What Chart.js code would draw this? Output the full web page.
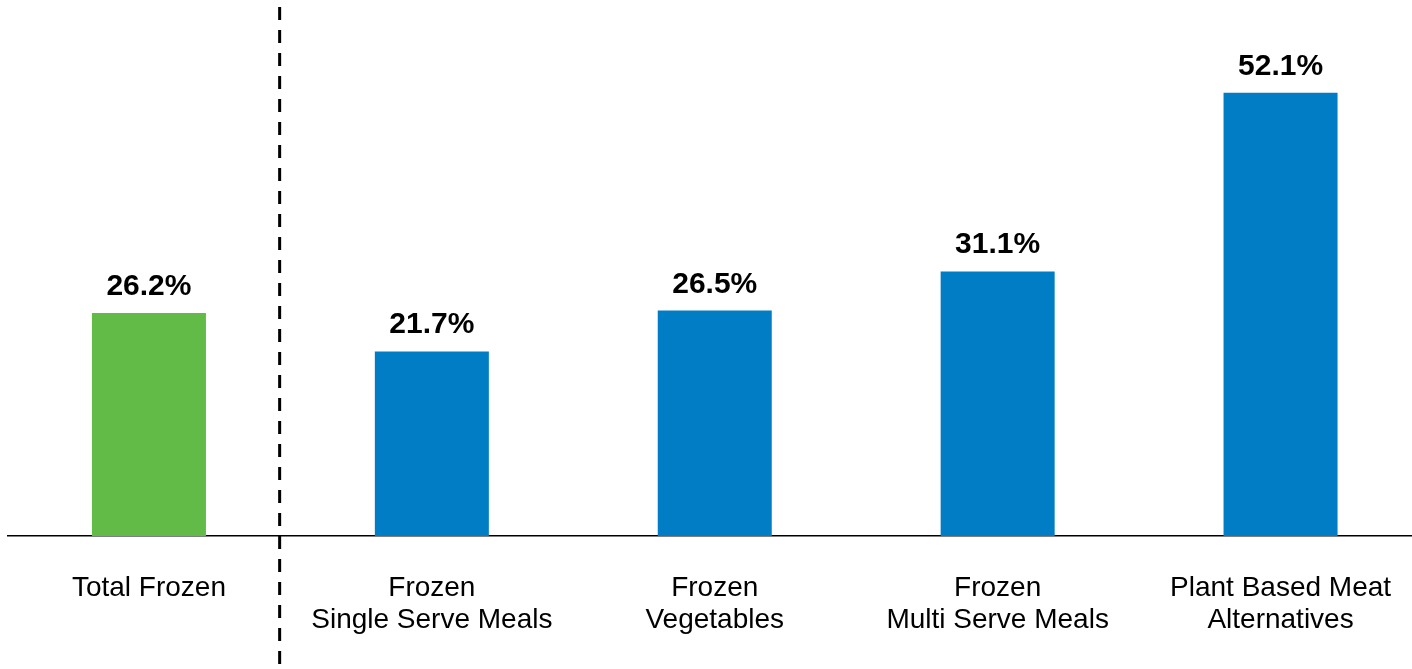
<!DOCTYPE html>
<html>
<head>
<meta charset="utf-8">
<script src="https://cdn.jsdelivr.net/npm/chart.js@4"></script>
<style>
  html, body { margin: 0; padding: 0; background: #fff; overflow: hidden; }
  #wrap { width: 1422px; height: 669px; }
</style>
</head>
<body>
<div id="wrap"><canvas id="salesChart"></canvas></div>
<script>
const categories = [
    'Total Frozen',
    ['Frozen', 'Single Serve Meals'],
    ['Frozen', 'Vegetables'],
    ['Frozen', 'Multi Serve Meals'],
    ['Plant Based Meat', 'Alternatives']
];
const growthValues = [26.2, 21.7, 26.5, 31.1, 52.1];
const barColors = ['#62BB46', '#007DC5', '#007DC5', '#007DC5', '#007DC5'];

const fontFamily = '"Liberation Sans", Arial, sans-serif';

// value labels above each bar
const valueLabels = {
    id: 'valueLabels',
    afterDatasetsDraw(chart) {
        const ctx = chart.ctx;
        const meta = chart.getDatasetMeta(0);
        ctx.save();
        ctx.font = 'bold 30px ' + fontFamily;
        ctx.fillStyle = '#000';
        ctx.textAlign = 'center';
        ctx.textBaseline = 'alphabetic';
        meta.data.forEach((bar, i) => {
            ctx.fillText(growthValues[i].toFixed(1) + '%', bar.x, bar.y - 18);
        });
        ctx.restore();
    }
};

// dashed divider between "Total Frozen" and the sub-categories
const divider = {
    id: 'divider',
    afterDraw(chart) {
        const ctx = chart.ctx;
        const x = chart.scales.x;
        const step = x.getPixelForValue(1) - x.getPixelForValue(0);
        const px = x.getPixelForValue(0) + step * 0.462;
        ctx.save();
        ctx.strokeStyle = '#000';
        ctx.lineWidth = 3;
        ctx.setLineDash([13, 10]);
        ctx.beginPath();
        ctx.moveTo(px, 7);
        ctx.lineTo(px, chart.height);
        ctx.stroke();
        ctx.restore();
    }
};

new Chart(document.getElementById('salesChart'), {
    type: 'bar',
    data: {
        labels: categories,
        datasets: [{
            data: growthValues,
            backgroundColor: barColors,
            barPercentage: 0.403,
            categoryPercentage: 1
        }]
    },
    plugins: [valueLabels, divider],
    options: {
        responsive: true,
        maintainAspectRatio: false,
        animation: false,
        layout: { padding: { left: 7.5, right: 0, top: 0, bottom: 0 } },
        plugins: { legend: { display: false }, tooltip: { enabled: false } },
        scales: {
            x: {
                grid: { display: false, drawTicks: false },
                border: { display: true, color: '#000', width: 1.5 },
                ticks: {
                    color: '#000',
                    font: { family: fontFamily, size: 28, lineHeight: 1.15 },
                    padding: 36,
                    maxRotation: 0,
                    autoSkip: false
                },
                afterFit(scale) {
                    scale.height = 133;
                    scale.paddingLeft = 0;
                    scale.paddingRight = 0;
                }
            },
            y: {
                display: false,
                min: 0,
                max: 63
            }
        }
    }
});
</script>
</body>
</html>
